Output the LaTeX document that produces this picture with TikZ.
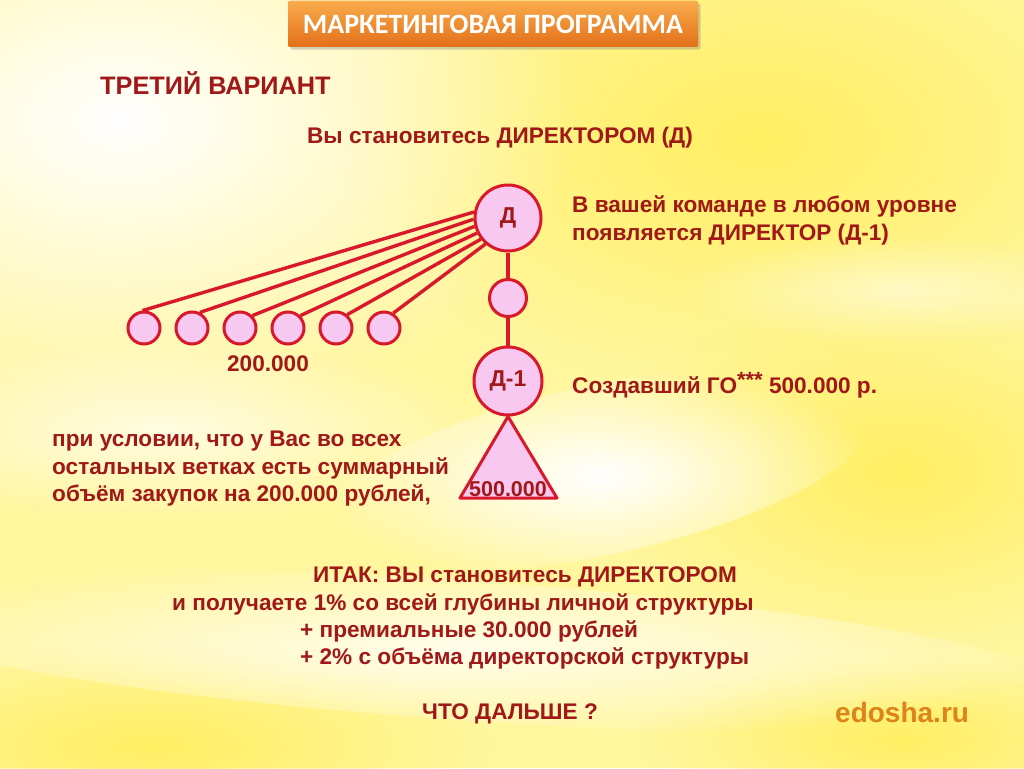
\documentclass[tikz,border=0pt]{standalone}
\usepackage{fontspec}
\setmainfont{Liberation Sans}
\newfontfamily\headfont{Carlito}
\usetikzlibrary{positioning,shadows,fadings}
\definecolor{txtred}{HTML}{A01818}
\definecolor{ringred}{HTML}{D9192B}
\definecolor{pinkfill}{HTML}{F9C8F1}
\definecolor{paleyel}{HTML}{FFF69E}
\definecolor{bgyellow}{HTML}{FFEF62}
\definecolor{orangetop}{HTML}{F9AC4C}
\definecolor{orangebot}{HTML}{E36F19}
\definecolor{siteorange}{HTML}{DD8419}
\tikzfading[name=softedge,inner color=transparent!0,outer color=transparent!100]
\tikzset{
  member/.style={circle,draw=ringred,line width=3pt,fill=pinkfill,inner sep=0pt,
    text=txtred,font=\bfseries\fontsize{23}{26}\selectfont},
  link/.style={ringred,line width=3.4pt},
  say/.style={text=txtred,font=\bfseries\fontsize{22.6}{27}\selectfont,inner sep=0pt},
}
\begin{document}
\begin{tikzpicture}[x=1pt,y=-1pt]
	\useasboundingbox (0,0) rectangle (1024,768);
	%background
	\fill[paleyel] (0,0) rectangle (1024,768);
	\fill[bgyellow,path fading=softedge] (760,140) ellipse (420 and 250);
	\fill[bgyellow,path fading=softedge] (900,470) ellipse (300 and 180);
	\fill[bgyellow,path fading=softedge] (150,745) ellipse (340 and 100);
	\fill[bgyellow,path fading=softedge] (900,740) ellipse (260 and 80);
	\fill[white,path fading=softedge] (120,120) ellipse (460 and 300);
	\fill[white,path fading=softedge,rotate around={12:(600,470)}] (600,470) ellipse (280 and 85);
	\fill[white,opacity=.7,path fading=softedge] (160,430) ellipse (320 and 90);
	\fill[white,opacity=.8,path fading=softedge,rotate around={-4:(460,650)}] (460,650) ellipse (620 and 70);
	\fill[white,opacity=.5,path fading=softedge] (900,290) ellipse (220 and 55);
	%title
	\node[fill=orangebot,top color=orangetop,bottom color=orangebot,rounded corners=2pt,
		drop shadow={opacity=.35},minimum width=410pt,minimum height=46pt,text=white,
		font=\headfont\bfseries\fontsize{28}{32}\selectfont] (title) at (493,24) {МАРКЕТИНГОВАЯ ПРОГРАММА};
	\node[say,anchor=base west,font=\bfseries\fontsize{25.3}{28}\selectfont] (variant) at (100,94) {ТРЕТИЙ ВАРИАНТ};
	\node[say,anchor=base] (become) at (500,143) {Вы становитесь ДИРЕКТОРОМ (Д)};
	%tree
	\node[member,minimum size=66pt] (D) at (508,218) {Д};
	\node[member,minimum size=37pt] (mid) at (508,298) {};
	\node[member,minimum size=68pt] (D1) at (508,381) {Д-1};
	\draw[link] (D) -- (mid);
	\draw[link] (mid) -- (D1);
	\foreach \i in {1,...,6}
		\node[member,minimum size=32pt] (c\i) at ({96+48*\i},328) {};
	\foreach \i/\from/\to in {1/95/170,2/63/182,3/45/194,4/45/206,5/50/218,6/58/229}
		\draw[link] (c\i.\from) -- (D.\to);
	\node[say,anchor=base] (sum) at (268,371) {200.000};
	%team volume
	\draw[link,line width=3pt,fill=pinkfill,line join=round] (D1.south) -- (557,498) -- (460,498) -- cycle;
	\node[say,anchor=base,font=\bfseries\fontsize{21.5}{25}\selectfont] (go) at (508,496) {500.000};
	%notes
	\node[say,anchor=base west] (any1) at (572,212) {В вашей команде в любом уровне};
	\node[say,anchor=base west] (any2) at (572,240) {появляется ДИРЕКТОР (Д-1)};
	\node[say,anchor=base west] (made) at (572,393) {Создавший ГО\raisebox{.42ex}{\fontsize{22}{24}\selectfont***} 500.000 р.};
	\node[say,anchor=base west] (cond1) at (52,446) {при условии, что у Вас во всех};
	\node[say,anchor=base west] (cond2) at (52,474) {остальных ветках есть суммарный};
	\node[say,anchor=base west] (cond3) at (52,501) {объём закупок на 200.000 рублей,};
	%summary
	\node[say,anchor=base west] (sum1) at (313,582) {ИТАК: ВЫ становитесь ДИРЕКТОРОМ};
	\node[say,anchor=base west] (sum2) at (172,610) {и получаете 1\% со всей глубины личной структуры};
	\node[say,anchor=base west] (sum3) at (300,637) {+ премиальные 30.000 рублей};
	\node[say,anchor=base west] (sum4) at (300,664) {+ 2\% с объёма директорской структуры};
	\node[say,anchor=base west] (next) at (422,719) {ЧТО ДАЛЬШЕ ?};
	\node[anchor=base west,inner sep=0pt,text=siteorange,font=\bfseries\fontsize{28}{32}\selectfont] (site) at (835,722) {edosha.ru};
\end{tikzpicture}
\end{document}
